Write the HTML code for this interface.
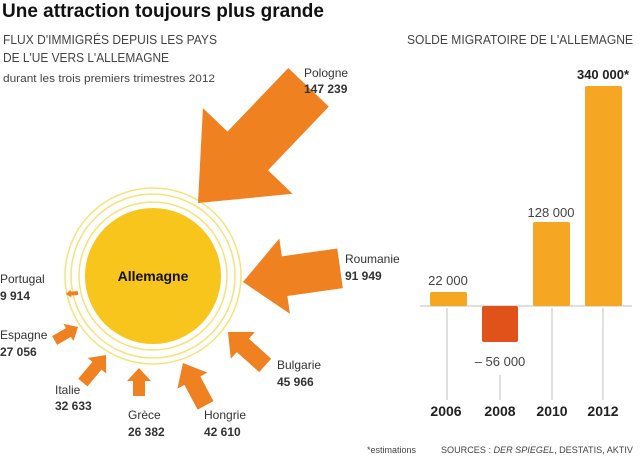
<!DOCTYPE html>
<html><head><meta charset="utf-8"><style>
body{margin:0;background:#fff;}
svg text{font-family:"Liberation Sans",sans-serif;}
</style></head><body>
<svg width="640" height="458" viewBox="0 0 640 458" xmlns="http://www.w3.org/2000/svg">
<defs>
<polygon id="ar" points="0,0 -1,0"/>
</defs>
<text x="2" y="17" font-size="19" font-weight="bold" fill="#111" textLength="322" lengthAdjust="spacingAndGlyphs">Une attraction toujours plus grande</text>
<text x="3" y="44" font-size="13" fill="#444" textLength="214" lengthAdjust="spacingAndGlyphs">FLUX D'IMMIGRÉS DEPUIS LES PAYS</text>
<text x="3" y="62" font-size="13" fill="#444" textLength="166" lengthAdjust="spacingAndGlyphs">DE L'UE VERS L'ALLEMAGNE</text>
<text x="3" y="82" font-size="11" fill="#444" textLength="212" lengthAdjust="spacingAndGlyphs">durant les trois premiers trimestres 2012</text>

<!-- sun -->
<circle cx="153" cy="276" r="88" fill="none" stroke="#f7e27a" stroke-width="1.5"/>
<circle cx="153" cy="276" r="82" fill="none" stroke="#f7e27a" stroke-width="1.5"/>
<circle cx="153" cy="276" r="74" fill="none" stroke="#f7e27a" stroke-width="1.5"/>
<circle cx="153" cy="276" r="68" fill="#f8c51c"/>
<text x="153" y="281" font-size="14" font-weight="bold" fill="#111" text-anchor="middle">Allemagne</text>

<g fill="#ef8120">
<!-- Pologne -->
<g transform="translate(198,203) rotate(133.7)"><polygon points="0,0 -72,-62 -72,-28 -160,-28 -160,28 -72,28 -72,62"/></g>
<!-- Roumanie -->
<g transform="translate(243,282) rotate(172)"><polygon points="0,0 -42,-38 -42,-20 -98,-20 -98,20 -42,20 -42,38"/></g>
<!-- Portugal -->
<g transform="translate(66,294) rotate(175)"><polygon points="0,0 -5,-4 -5,-2 -12,-2 -12,2 -5,2 -5,4"/></g>
<!-- Espagne -->
<g transform="translate(78,327) rotate(-30)"><polygon points="0,0 -11,-10 -11,-5 -27,-5 -27,5 -11,5 -11,10"/></g>
<!-- Italie -->
<g transform="translate(106,355) rotate(-50)"><polygon points="0,0 -14,-12 -14,-6 -36,-6 -36,6 -14,6 -14,12"/></g>
<!-- Grece -->
<g transform="translate(139,368) rotate(-90)"><polygon points="0,0 -13,-12 -13,-6 -28,-6 -28,6 -13,6 -13,12"/></g>
<!-- Hongrie -->
<g transform="translate(183,363) rotate(-118)"><polygon points="0,0 -20,-17 -20,-9 -48,-9 -48,9 -20,9 -20,17"/></g>
<!-- Bulgarie -->
<g transform="translate(228,332) rotate(-138)"><polygon points="0,0 -20,-18 -20,-9 -50,-9 -50,9 -20,9 -20,18"/></g>
</g>

<g font-size="12" fill="#333">
<text x="304" y="77">Pologne</text><text x="304" y="93" font-weight="bold">147 239</text>
<text x="345" y="263">Roumanie</text><text x="345" y="280" font-weight="bold">91 949</text>
<text x="0" y="283">Portugal</text><text x="0" y="300" font-weight="bold">9 914</text>
<text x="0" y="339">Espagne</text><text x="0" y="356" font-weight="bold">27 056</text>
<text x="55" y="394">Italie</text><text x="55" y="410" font-weight="bold">32 633</text>
<text x="128" y="419">Grèce</text><text x="128" y="436" font-weight="bold">26 382</text>
<text x="204" y="419">Hongrie</text><text x="204" y="436" font-weight="bold">42 610</text>
<text x="277" y="369">Bulgarie</text><text x="277" y="386" font-weight="bold">45 966</text>
</g>

<!-- bar chart -->
<text x="407" y="44" font-size="13" fill="#444" textLength="226" lengthAdjust="spacingAndGlyphs">SOLDE MIGRATOIRE DE L'ALLEMAGNE</text>
<g stroke="#ccc" stroke-width="1.2">
<line x1="420" y1="306" x2="632" y2="306"/>
<line x1="447" y1="308" x2="447" y2="400"/>
<line x1="500" y1="375" x2="500" y2="400"/>
<line x1="552" y1="308" x2="552" y2="400"/>
<line x1="603" y1="308" x2="603" y2="400"/>
</g>
<rect x="430" y="292" width="37" height="14" rx="2" fill="#f5a623"/>
<rect x="482" y="306" width="36" height="36" rx="2" fill="#e0521a"/>
<rect x="533" y="222" width="37" height="84" rx="2" fill="#f5a623"/>
<rect x="585" y="86" width="37" height="220" rx="2" fill="#f5a623"/>
<g font-size="13" fill="#444" text-anchor="middle">
<text x="448" y="285">22 000</text>
<text x="500" y="366">– 56 000</text>
<text x="551" y="217">128 000</text>
<text x="603" y="79" font-weight="bold" fill="#222">340 000*</text>
</g>
<g font-size="14" font-weight="bold" fill="#222" text-anchor="middle">
<text x="446" y="416">2006</text><text x="500" y="416">2008</text>
<text x="552" y="416">2010</text><text x="603" y="416">2012</text>
</g>
<text x="367" y="453" font-size="9" fill="#444">*estimations</text>
<text x="441" y="453" font-size="9" fill="#444" textLength="192" lengthAdjust="spacingAndGlyphs">SOURCES : <tspan font-style="italic">DER SPIEGEL</tspan>, DESTATIS, AKTIV</text>
</svg>
</body></html>
